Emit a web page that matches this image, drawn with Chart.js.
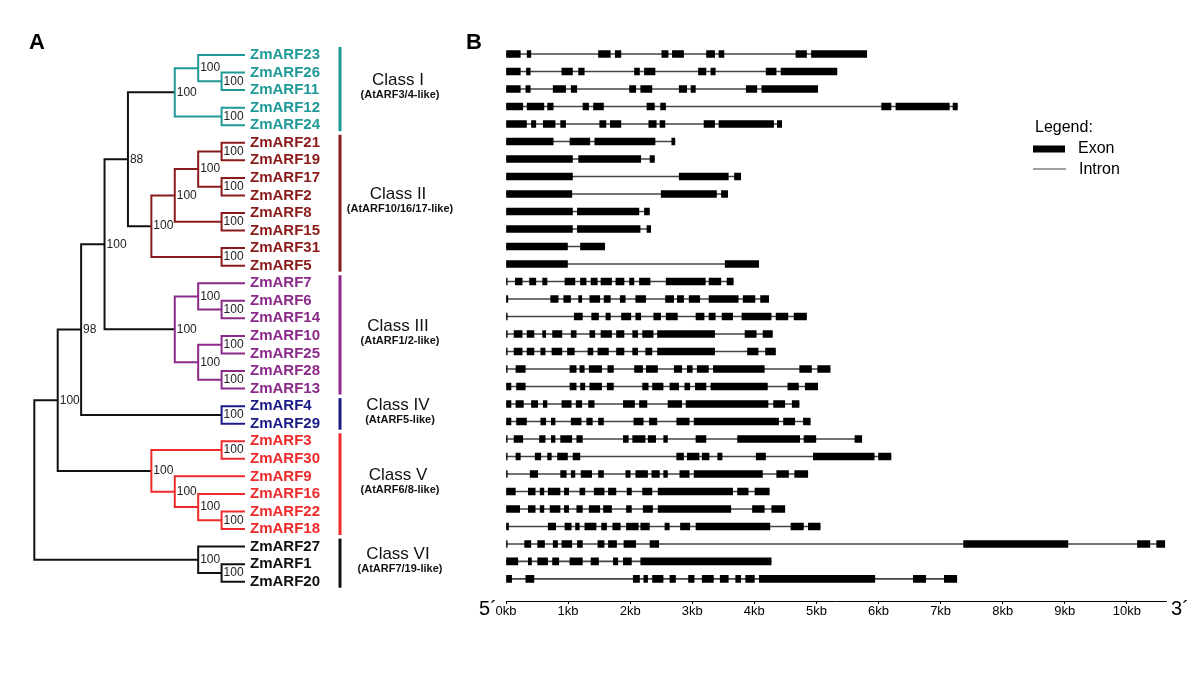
<!DOCTYPE html>
<html>
<head>
<meta charset="utf-8">
<script src="https://cdn.jsdelivr.net/npm/chart.js@4.4.0/dist/chart.umd.min.js"></script>
<style>
  body { margin: 0; background: #fff; }
  #wrap { position: relative; width: 1200px; height: 675px; }
  canvas { position: absolute; left: 0; top: 0; }
</style>
</head>
<body>
<div id="wrap">
  <canvas id="genes" width="1200" height="675"></canvas>
  <canvas id="tree" width="1200" height="675"></canvas>
</div>
<script>
// gene order (top to bottom), class of each gene
const geneNames = ['ZmARF23','ZmARF26','ZmARF11','ZmARF12','ZmARF24',
  'ZmARF21','ZmARF19','ZmARF17','ZmARF2','ZmARF8','ZmARF15','ZmARF31','ZmARF5',
  'ZmARF7','ZmARF6','ZmARF14','ZmARF10','ZmARF25','ZmARF28','ZmARF13',
  'ZmARF4','ZmARF29',
  'ZmARF3','ZmARF30','ZmARF9','ZmARF16','ZmARF22','ZmARF18',
  'ZmARF27','ZmARF1','ZmARF20'];
const geneClass = [0,0,0,0,0, 1,1,1,1,1,1,1,1, 2,2,2,2,2,2,2, 3,3, 4,4,4,4,4,4, 5,5,5];

const classNames = ['Class I','Class II','Class III','Class IV','Class V','Class VI'];
const classSubtitles = ['(AtARF3/4-like)','(AtARF10/16/17-like)','(AtARF1/2-like)',
  '(AtARF5-like)','(AtARF6/8-like)','(AtARF7/19-like)'];
const classColors = ['#1f9a98','#8a1b1b','#8b2a8b','#1b1b86','#ee2a2a','#111111'];

// tree with bootstrap values
const cladeI = '((ZmARF23,(ZmARF26,ZmARF11)100)100,(ZmARF12,ZmARF24)100)100';
const cladeII = '((((ZmARF21,ZmARF19)100,(ZmARF17,ZmARF2)100)100,(ZmARF8,ZmARF15)100)100,(ZmARF31,ZmARF5)100)100';
const cladeIII = '((ZmARF7,(ZmARF6,ZmARF14)100)100,((ZmARF10,ZmARF25)100,(ZmARF28,ZmARF13)100)100)100';
const cladeIV = '(ZmARF4,ZmARF29)100';
const cladeV = '((ZmARF3,ZmARF30)100,(ZmARF9,(ZmARF16,(ZmARF22,ZmARF18)100)100)100)100';
const cladeVI = '(ZmARF27,(ZmARF1,ZmARF20)100)100';
const treeNewick = `(((((${cladeI},${cladeII})88,${cladeIII})100,${cladeIV})98,${cladeV})100,${cladeVI});`;

// exons in kb, same order as geneNames
const geneExons = [
  [[0,0.23],[0.34,0.4],[1.49,1.68],[1.76,1.85],[2.51,2.61],[2.68,2.86],[3.23,3.36],[3.43,3.51],[4.67,4.84],[4.92,5.81]],
  [[0,0.23],[0.33,0.39],[0.9,1.07],[1.17,1.26],[2.07,2.15],[2.23,2.4],[3.1,3.22],[3.3,3.37],[4.19,4.35],[4.43,5.33]],
  [[0,0.23],[0.32,0.39],[0.76,0.96],[1.05,1.14],[1.99,2.09],[2.17,2.35],[2.79,2.91],[2.98,3.05],[3.87,4.04],[4.12,5.02]],
  [[0,0.27],[0.34,0.61],[0.67,0.76],[1.24,1.33],[1.41,1.57],[2.27,2.39],[2.49,2.57],[6.05,6.2],[6.28,7.14],[7.2,7.27]],
  [[0,0.33],[0.41,0.48],[0.6,0.79],[0.88,0.96],[1.51,1.61],[1.68,1.85],[2.3,2.42],[2.48,2.56],[3.19,3.36],[3.43,4.31],[4.37,4.44]],
  [[0,0.76],[1.03,1.35],[1.43,2.4],[2.67,2.72]],
  [[0,1.07],[1.17,2.17],[2.32,2.39]],
  [[0,1.07],[2.79,3.58],[3.68,3.78]],
  [[0,1.06],[2.5,3.39],[3.47,3.57]],
  [[0,1.07],[1.15,2.14],[2.23,2.31]],
  [[0,1.07],[1.15,2.16],[2.27,2.33]],
  [[0,0.99],[1.2,1.59]],
  [[0,0.99],[3.53,4.07]],
  [[0,0.02],[0.15,0.26],[0.38,0.48],[0.59,0.66],[0.95,1.11],[1.2,1.29],[1.37,1.47],[1.53,1.7],[1.77,1.9],[1.99,2.06],[2.15,2.32],[2.58,3.21],[3.27,3.46],[3.56,3.66]],
  [[0,0.03],[0.72,0.84],[0.93,1.04],[1.17,1.22],[1.35,1.51],[1.58,1.68],[1.84,1.92],[2.09,2.25],[2.57,2.7],[2.76,2.86],[2.95,3.12],[3.27,3.74],[3.82,4.01],[4.1,4.23]],
  [[0,0.02],[1.1,1.23],[1.38,1.49],[1.61,1.68],[1.86,2.01],[2.09,2.17],[2.38,2.49],[2.58,2.76],[3.06,3.19],[3.27,3.37],[3.48,3.65],[3.8,4.27],[4.35,4.54],[4.64,4.84]],
  [[0,0.02],[0.13,0.26],[0.34,0.45],[0.59,0.64],[0.75,0.9],[1.05,1.13],[1.35,1.43],[1.53,1.7],[1.78,1.9],[2.04,2.12],[2.2,2.37],[2.44,3.36],[3.85,4.03],[4.14,4.29]],
  [[0,0.02],[0.13,0.26],[0.34,0.45],[0.56,0.63],[0.74,0.9],[0.99,1.1],[1.32,1.4],[1.48,1.65],[1.78,1.9],[2.04,2.12],[2.25,2.35],[2.44,3.36],[3.89,4.06],[4.18,4.34]],
  [[0,0.02],[0.16,0.31],[1.03,1.13],[1.19,1.26],[1.34,1.54],[1.64,1.73],[2.07,2.2],[2.26,2.44],[2.71,2.83],[2.92,3.0],[3.08,3.26],[3.34,4.16],[4.73,4.92],[5.02,5.22]],
  [[0,0.08],[0.17,0.31],[1.03,1.13],[1.2,1.27],[1.35,1.54],[1.63,1.73],[2.2,2.29],[2.36,2.53],[2.64,2.78],[2.88,2.96],[3.05,3.22],[3.3,4.21],[4.54,4.71],[4.82,5.02]],
  [[0,0.08],[0.16,0.28],[0.41,0.51],[0.6,0.66],[0.9,1.05],[1.13,1.22],[1.33,1.42],[1.89,2.07],[2.15,2.27],[2.61,2.83],[2.9,4.22],[4.31,4.49],[4.61,4.72]],
  [[0,0.08],[0.17,0.33],[0.56,0.64],[0.73,0.79],[1.05,1.21],[1.3,1.39],[1.49,1.57],[2.06,2.21],[2.31,2.43],[2.75,2.95],[3.03,4.39],[4.47,4.65],[4.79,4.9]],
  [[0,0.02],[0.13,0.27],[0.54,0.63],[0.73,0.79],[0.88,1.06],[1.14,1.23],[1.89,1.97],[2.04,2.24],[2.29,2.41],[2.54,2.6],[3.06,3.22],[3.73,4.73],[4.8,4.99],[5.62,5.73]],
  [[0,0.02],[0.16,0.23],[0.47,0.56],[0.67,0.73],[0.83,0.99],[1.08,1.19],[2.75,2.86],[2.92,3.11],[3.16,3.27],[3.41,3.48],[4.03,4.18],[4.95,5.93],[6.0,6.2]],
  [[0,0.02],[0.39,0.51],[0.88,0.97],[1.05,1.11],[1.21,1.38],[1.49,1.57],[1.93,2.0],[2.09,2.28],[2.35,2.47],[2.54,2.6],[2.8,2.95],[3.03,4.13],[4.36,4.55],[4.65,4.86]],
  [[0,0.15],[0.36,0.47],[0.55,0.61],[0.68,0.87],[0.94,1.01],[1.19,1.27],[1.42,1.58],[1.65,1.77],[1.95,2.02],[2.2,2.35],[2.45,3.65],[3.73,3.9],[4.01,4.24]],
  [[0,0.22],[0.36,0.47],[0.55,0.61],[0.71,0.87],[0.94,1.01],[1.14,1.23],[1.34,1.51],[1.57,1.7],[1.94,2.02],[2.21,2.36],[2.45,3.62],[3.97,4.16],[4.28,4.49]],
  [[0,0.04],[0.68,0.8],[0.95,1.05],[1.12,1.18],[1.27,1.45],[1.54,1.62],[1.72,1.84],[1.94,2.13],[2.17,2.31],[2.56,2.63],[2.81,2.96],[3.06,4.25],[4.59,4.79],[4.87,5.06]],
  [[0,0.02],[0.3,0.4],[0.51,0.62],[0.76,0.83],[0.9,1.06],[1.15,1.23],[1.48,1.58],[1.65,1.78],[1.9,2.09],[2.32,2.46],[7.37,9.05],[10.17,10.37],[10.48,10.61]],
  [[0,0.19],[0.36,0.41],[0.51,0.67],[0.75,0.85],[1.03,1.23],[1.37,1.49],[1.73,1.8],[1.89,2.02],[2.17,4.27]],
  [[0,0.09],[0.32,0.45],[2.05,2.15],[2.22,2.28],[2.36,2.53],[2.64,2.73],[2.94,3.03],[3.16,3.34],[3.45,3.58],[3.7,3.78],[3.86,4.0],[4.08,5.94],[6.56,6.76],[7.06,7.26]]
];
const tickKb = [0,1,2,3,4,5,6,7,8,9,10];

const FONT = '"Liberation Sans", Arial, sans-serif';

// --- tree layout ---
function parseNewick(s) {
  let i = 0;
  function node() {
    const n = { children: [], name: '', label: '' };
    if (s[i] === '(') {
      i++;
      n.children.push(node());
      while (s[i] === ',') { i++; n.children.push(node()); }
      i++; // ')'
    }
    let tok = '';
    while (i < s.length && !',();'.includes(s[i])) tok += s[i++];
    if (n.children.length) n.label = tok; else n.name = tok;
    return n;
  }
  return node();
}

const tree = parseNewick(treeNewick);
function heightOf(n) {
  n.h = n.children.length ? 1 + Math.max(...n.children.map(heightOf)) : 0;
  return n.h;
}
heightOf(tree);
const maxH = tree.h;
const internal = [];
function place(n) {
  if (!n.children.length) {
    n.y = geneNames.indexOf(n.name);
    n.cls = geneClass[n.y];
  } else {
    n.children.forEach(place);
    n.y = (n.children[0].y + n.children[n.children.length - 1].y) / 2;
    const c = n.children.map(k => k.cls);
    n.cls = c.every(v => v === c[0]) ? c[0] : -1;
    internal.push(n);
  }
  n.x = maxH - n.h;
}
place(tree);

const treeSets = internal.map(n => {
  const a = n.children[0], b = n.children[n.children.length - 1];
  return {
    data: [{x: a.x, y: a.y}, {x: n.x, y: a.y}, {x: n.x, y: b.y}, {x: b.x, y: b.y}],
    showLine: true,
    borderColor: n.cls < 0 ? '#111' : classColors[n.cls],
    borderWidth: 2,
    borderJoinStyle: 'miter',
    pointRadius: 0,
    tension: 0,
    clip: false
  };
});

const treeDeco = {
  id: 'treeDeco',
  afterDraw(chart) {
    const {ctx, chartArea, scales: {x, y}} = chart;
    ctx.save();
    ctx.textBaseline = 'middle';
    ctx.textAlign = 'left';
    ctx.fillStyle = '#222';
    ctx.font = '12px ' + FONT;
    internal.forEach(n => {
      if (n.label) ctx.fillText(n.label, x.getPixelForValue(n.x) + 2, y.getPixelForValue(n.y));
    });
    classNames.forEach((name, k) => {
      const idx = geneClass.map((c, i) => c === k ? i : -1).filter(i => i >= 0);
      const top = y.getPixelForValue(idx[0]);
      const bot = y.getPixelForValue(idx[idx.length - 1]);
      const bx = chartArea.right + 95;
      ctx.fillStyle = classColors[k];
      ctx.fillRect(bx - 1.5, top - 8, 3, bot - top + 14);
      const mid = (top + bot) / 2;
      ctx.fillStyle = '#111';
      ctx.textAlign = 'center';
      ctx.font = '17px ' + FONT;
      ctx.fillText(name, chartArea.right + 153, mid - 10);
      ctx.font = 'bold 11px ' + FONT;
      ctx.fillText(classSubtitles[k], chartArea.right + 155, mid + 5);
    });
    ctx.fillStyle = '#000';
    ctx.font = 'bold 22px ' + FONT;
    ctx.textAlign = 'center';
    ctx.fillText('A', 37, 43);
    ctx.restore();
  }
};

new Chart('tree', {
  type: 'scatter',
  data: { datasets: treeSets },
  options: {
    responsive: false,
    animation: false,
    devicePixelRatio: 1,
    events: [],
    layout: { padding: { left: 34.3, right: 845, top: 46.2, bottom: 84.5 } },
    plugins: { legend: { display: false }, tooltip: { enabled: false } },
    scales: {
      x: { type: 'linear', min: 0, max: maxH, display: false },
      y: {
        type: 'linear', position: 'right', reverse: true, min: -0.5, max: geneNames.length - 0.5,
        afterBuildTicks: s => { s.ticks = geneNames.map((_, i) => ({ value: i })); },
        afterFit: s => { s.width = 110; },
        grid: { display: false, drawTicks: false },
        border: { display: false },
        ticks: {
          autoSkip: false,
          padding: 5,
          callback: v => geneNames[v],
          color: c => classColors[geneClass[c.tick.value]],
          font: { family: FONT, size: 15, weight: 'bold', lineHeight: 1 }
        }
      }
    }
  },
  plugins: [treeDeco]
});

// --- gene structures ---
const intronData = geneExons.map((ex, i) => ({ y: i, x: [0, ex[ex.length - 1][1]] }));
const exonData = [];
geneExons.forEach((ex, i) => ex.forEach(e => exonData.push({ y: i, x: e })));

const geneDeco = {
  id: 'geneDeco',
  afterDraw(chart) {
    const {ctx, chartArea} = chart;
    ctx.save();
    ctx.fillStyle = '#000';
    ctx.textBaseline = 'middle';
    ctx.textAlign = 'center';
    ctx.font = 'bold 22px ' + FONT;
    ctx.fillText('B', 474, 43);
    ctx.font = '20px ' + FONT;
    ctx.fillText('5\u00b4', chartArea.left - 18, chartArea.bottom + 8);
    ctx.fillText('3\u00b4', chartArea.right + 14, chartArea.bottom + 8);
    // legend
    ctx.textAlign = 'left';
    ctx.font = '16px ' + FONT;
    ctx.fillText('Legend:', 1035, 128);
    ctx.fillRect(1033, 145.5, 32, 7);
    ctx.fillText('Exon', 1078, 148.5);
    ctx.fillStyle = '#444';
    ctx.fillRect(1033, 168.5, 33, 1);
    ctx.fillStyle = '#000';
    ctx.fillText('Intron', 1079, 169.5);
    ctx.restore();
  }
};

new Chart('genes', {
  type: 'bar',
  data: {
    datasets: [
      { label: 'Exon', data: exonData, backgroundColor: '#000', barThickness: 7, grouped: false, order: 0 },
      { label: 'Intron', data: intronData, backgroundColor: '#444', barThickness: 1, grouped: false, order: 1 }
    ]
  },
  options: {
    indexAxis: 'y',
    responsive: false,
    animation: false,
    devicePixelRatio: 1,
    events: [],
    layout: { padding: { left: 506, right: 34, top: 45.25, bottom: 44 } },
    plugins: { legend: { display: false }, tooltip: { enabled: false } },
    scales: {
      y: { type: 'linear', reverse: true, min: -0.5, max: 31.26, offset: false, display: false },
      x: {
        type: 'linear', min: 0, max: 10.63, position: 'bottom', offset: false,
        afterBuildTicks: s => { s.ticks = tickKb.map(v => ({ value: v })); },
        afterFit: s => { s.height = 30; },
        grid: { drawOnChartArea: false, tickLength: 3, color: '#000' },
        border: { color: '#000', width: 1 },
        ticks: {
          autoSkip: false, maxRotation: 0, padding: 0, color: '#000',
          callback: v => v + 'kb',
          font: { family: '"Liberation Sans Narrow", "Liberation Sans", Arial, sans-serif', size: 13 }
        }
      }
    }
  },
  plugins: [geneDeco]
});
</script>
</body>
</html>
